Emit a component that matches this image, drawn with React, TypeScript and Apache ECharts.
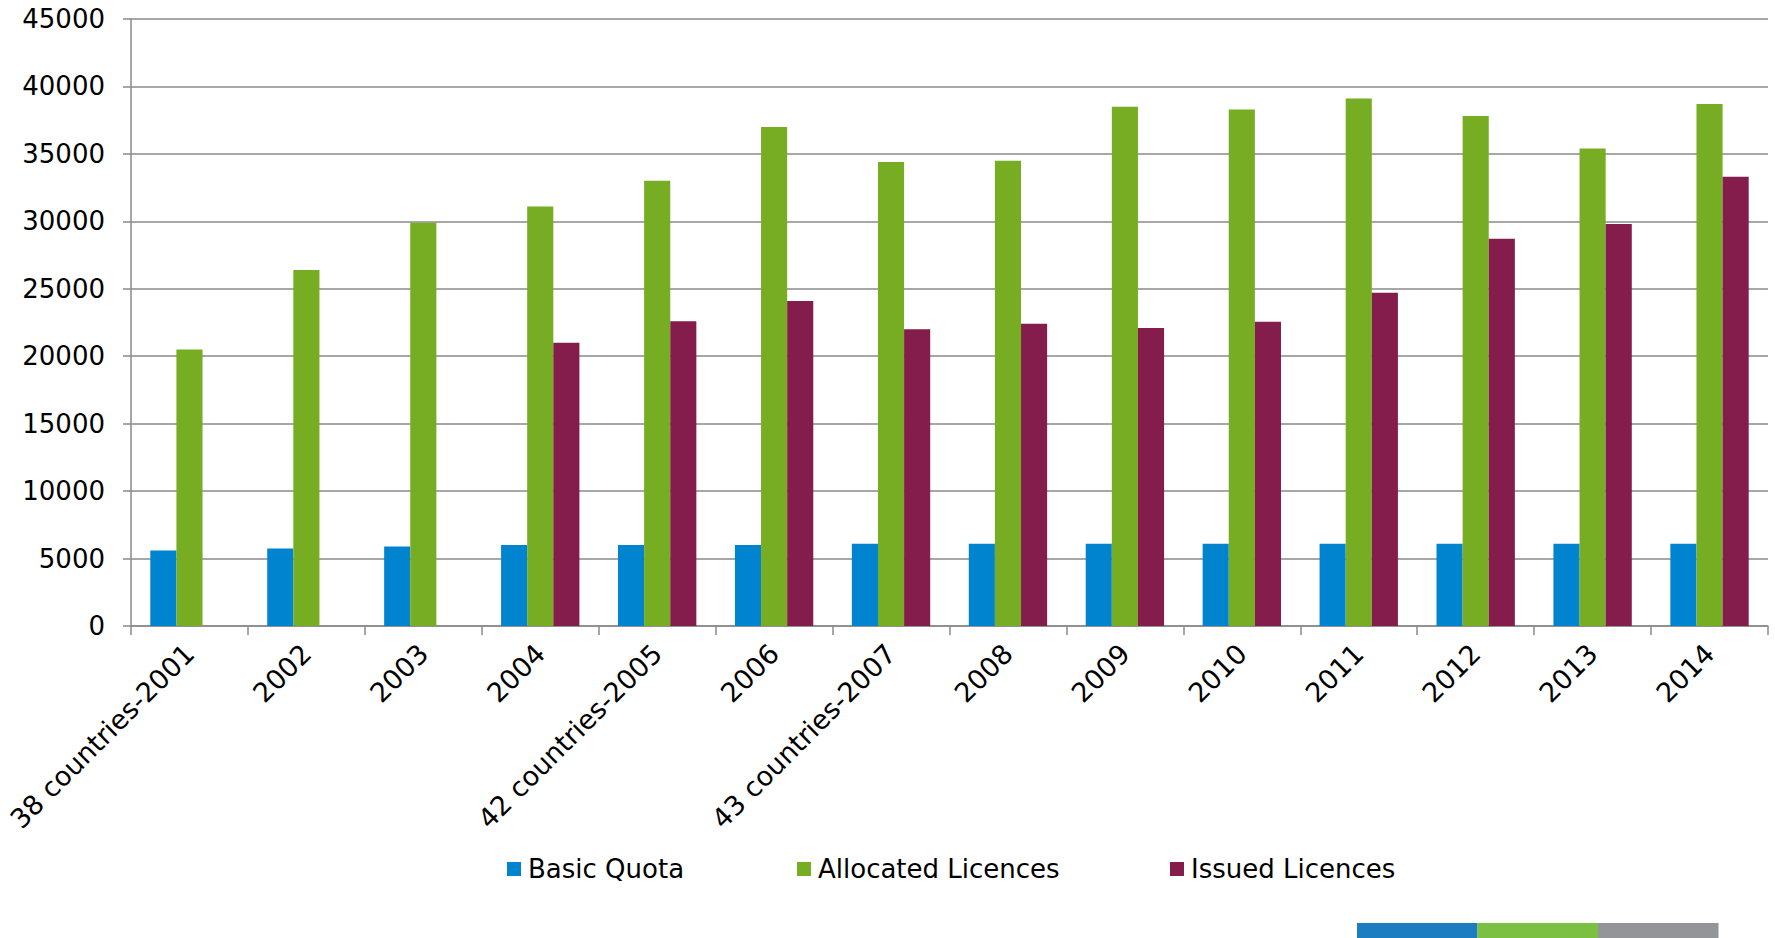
import React, { useEffect, useRef } from "react";
import * as echarts from "echarts";

const categories = [
  "38 countries-2001", "2002", "2003", "2004", "42 countries-2005", "2006",
  "43 countries-2007", "2008", "2009", "2010", "2011", "2012", "2013", "2014",
];
const basicQuota = [5600, 5750, 5900, 6000, 6000, 6000, 6100, 6100, 6100, 6100, 6100, 6100, 6100, 6100];
const allocatedLicences = [20500, 26400, 29900, 31100, 33000, 37000, 34400, 34500, 38500, 38300, 39100, 37800, 35400, 38700];
const issuedLicences = [null, null, null, 21000, 22600, 24100, 22000, 22400, 22100, 22550, 24700, 28700, 29800, 33300];
const seriesNames = ["Basic Quota", "Allocated Licences", "Issued Licences"];
const seriesColors = ["#0084CF", "#76AD22", "#841D4B"];
const stripeColors = ["#1D7DC1", "#7CC043", "#949599"];

const FONT = "'DejaVu Sans', Verdana, sans-serif";

export default function App() {
  const ref = useRef<HTMLDivElement>(null);
  useEffect(() => {
    if (!ref.current) return;
    const chart = echarts.init(ref.current, null, { renderer: "svg" });
    const legendLefts = [502, 792, 1165];
    const dataSets = [basicQuota, allocatedLicences, issuedLicences];
    const stripeX = 1357;
    const stripeW = 120.5;
    chart.setOption({
      animation: false,
      backgroundColor: "#ffffff",
      textStyle: { fontFamily: FONT },
      grid: { left: 131, right: 7, top: 19, bottom: 312, containLabel: false },
      legend: seriesNames.map((n, i) => ({
        data: [n],
        left: legendLefts[i],
        top: 851,
        itemWidth: 14,
        itemHeight: 14,
        itemGap: 0,
        icon: "rect",
        textStyle: { fontSize: 26, color: "#000", fontFamily: FONT, padding: [0, 0, 0, 2] },
        selectedMode: false,
      })),
      xAxis: {
        type: "category",
        data: categories,
        boundaryGap: true,
        axisLine: { lineStyle: { color: "#8a8a8a", width: 1.5 } },
        axisTick: { show: true, length: 9, interval: 0, lineStyle: { color: "#8a8a8a", width: 1.5 } },
        axisLabel: {
          interval: 0,
          rotate: 45,
          margin: 23,
          fontSize: 27,
          color: "#000",
          fontFamily: FONT,
        },
      },
      yAxis: {
        type: "value",
        min: 0,
        max: 45000,
        interval: 5000,
        axisLine: { show: true, lineStyle: { color: "#8a8a8a", width: 1.5 } },
        axisTick: { show: true, length: 8, lineStyle: { color: "#8a8a8a", width: 1.5 } },
        splitLine: { show: true, lineStyle: { color: "#8a8a8a", width: 1.5 } },
        axisLabel: {
          margin: 26,
          fontSize: 26,
          color: "#000",
          fontFamily: FONT,
          formatter: (v: number) => String(v),
        },
      },
      series: seriesNames.map((n, i) => ({
        name: n,
        type: "bar",
        data: dataSets[i],
        barGap: "0%",
        barCategoryGap: "33%",
        itemStyle: { color: seriesColors[i] },
      })),
      graphic: stripeColors.map((c, i) => ({
        type: "rect",
        left: stripeX + i * stripeW,
        top: 923,
        shape: { width: stripeW, height: 15 },
        style: { fill: c },
      })),
    });
    return () => chart.dispose();
  }, []);
  return (
    <div
      ref={ref}
      style={{ position: "fixed", left: 0, top: 0, width: 1775, height: 938 }}
    />
  );
}
